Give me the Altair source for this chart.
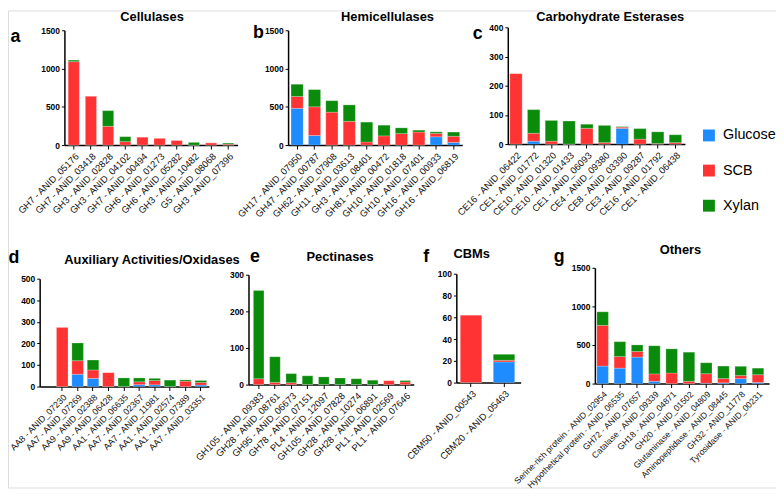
import altair as alt
import pandas as pd

SERIES = ["Glucose", "SCB", "Xylan"]
COLORS = ["#1E8BFF", "#FF3333", "#0B8B0B"]
FONT = "Liberation Sans"
W, H = 776, 482

# ---- data ----
a_labels = ["GH7 - ANID_05176", "GH7 - ANID_03418", "GH3 - ANID_02828", "GH3 - ANID_04102", "GH7 - ANID_00494",
            "GH6 - ANID_01273", "GH6 - ANID_05282", "GH3 - ANID_10482", "G5 - ANID_08068", "GH3 - ANID_07396"]
a_glc = [0, 0, 0, 0, 0, 0, 0, 0, 0, 0]
a_scb = [1090, 640, 245, 45, 105, 90, 62, 0, 30, 12]
a_xyl = [20, 0, 205, 65, 0, 0, 0, 35, 0, 14]

b_labels = ["GH17 - ANID_07950", "GH47 - ANID_00787", "GH62 - ANID_07908", "GH11 - ANID_03613", "GH3 - ANID_08401",
            "GH81 - ANID_00472", "GH10 - ANID_01818", "GH10 - ANID_07401", "GH16 - ANID_00933", "GH16 - ANID_06819"]
b_glc = [480, 125, 0, 0, 0, 0, 0, 0, 108, 35]
b_scb = [155, 375, 430, 310, 40, 120, 150, 170, 45, 80]
b_xyl = [160, 225, 150, 215, 260, 140, 75, 25, 20, 55]

c_labels = ["CE16 - ANID_06422", "CE1 - ANID_01772", "CE10 - ANID_01320", "CE10 - ANID_01433", "CE1 - ANID_06093",
            "CE4 - ANID_09380", "CE8 - ANID_03390", "CE3 - ANID_09287", "CE16 - ANID_01792", "CE1 - ANID_06438"]
c_glc = [0, 10, 0, 0, 0, 0, 54, 0, 0, 0]
c_scb = [242, 27, 10, 0, 54, 5, 4, 17, 2, 5]
c_xyl = [0, 81, 71, 79, 14, 59, 2, 36, 40, 27]

d_labels = ["AA8 - ANID_07230", "AA7 - ANID_07269", "AA9 - ANID_02388", "AA9 - ANID_06428", "AA1 - ANID_06635",
            "AA7 - ANID_02367", "AA7 - ANID_11981", "AA1 - ANID_02574", "AA1 - ANID_07389", "AA7 - ANID_03351"]
d_glc = [0, 57, 38, 0, 0, 9, 8, 0, 0, 7]
d_scb = [275, 63, 39, 65, 0, 13, 20, 0, 25, 12]
d_xyl = [0, 82, 46, 0, 40, 18, 10, 30, 6, 9]

e_labels = ["GH105 - ANID_09383", "GH28 - ANID_08761", "GH95 - ANID_06673", "GH78 - ANID_07151", "PL4 - ANID_12097",
            "GH105 - ANID_07828", "GH28 - ANID_10274", "GH28 - ANID_06891", "PL1 - ANID_02569", "PL1 - ANID_07646"]
e_glc = [0, 0, 0, 0, 0, 0, 0, 0, 0, 0]
e_scb = [16, 6, 5, 0, 0, 0, 0, 0, 11, 7]
e_xyl = [241, 70, 25, 24, 21, 18, 16, 12, 0, 4]

f_labels = ["CBM50 - ANID_00543", "CBM20 - ANID_05463"]
f_glc = [0, 19]
f_scb = [62, 1.5]
f_xyl = [0, 5.5]

g_labels = ["Serine-rich protein - ANID_02954", "Hypothetical protein - ANID_06535", "GH72 - ANID_07657",
            "Catalase - ANID_09339", "GH18 - ANID_04871", "GH20 - ANID_01502", "Glutaminase - ANID_04809",
            "Aminopeptidase - ANID_08445", "GH32 - ANID_11778", "Tyrosidase - ANID_00231"]
g_glc = [227, 200, 343, 30, 0, 0, 5, 10, 64, 15]
g_scb = [527, 150, 73, 95, 137, 30, 123, 55, 40, 100]
g_xyl = [176, 193, 85, 365, 313, 377, 142, 162, 120, 85]


def panel(title, letter, labels, glc, scb, xyl, ymax, ystep, xr, yr, title_pos, letter_pos,
          band=(0.35, 0.2, 0.5), label_size=9.5):
    """xr = [left, right] pixel range of the band axis, yr = [bottom, top] pixel range of the value axis,
    band = (paddingInner, paddingOuter, align) of the band scale."""
    rows = []
    for i, lab in enumerate(labels):
        for k, (s, vals) in enumerate(zip(SERIES, [glc, scb, xyl])):
            rows.append({"label": lab, "series": s, "ord": k, "value": vals[i]})
    df = pd.DataFrame(rows)
    x0, x1 = xr
    ybot, ytop = yr
    pin, pout, align = band
    return alt.Chart(df).mark_bar(stroke="white", strokeWidth=0.5, strokeOpacity=0.45).encode(
        x=alt.X("label:N", sort=labels,
                scale=alt.Scale(range=[x0, x1], paddingInner=pin, paddingOuter=pout, align=align),
                axis=alt.Axis(orient="bottom", offset=ybot - H, title=title,
                              titleX=title_pos[0], titleY=title_pos[1] - ybot, titleAlign="center",
                              titleBaseline="alphabetic", titleFontSize=13, titleFontWeight="bold",
                              titleFont=FONT, titleColor="black", titleAngle=0,
                              labelAngle=-45, labelFontSize=label_size, labelFont=FONT, labelColor="#111111",
                              tickSize=4, tickColor="black", tickWidth=1, domainColor="black",
                              domainWidth=1.5, labelPadding=2, labelLimit=300, labelOverlap=False)),
        y=alt.Y("value:Q", stack="zero",
                scale=alt.Scale(domain=[0, ymax], range=[ybot, ytop], nice=False),
                axis=alt.Axis(orient="left", offset=-x0, title=letter,
                              titleX=letter_pos[0] - x0, titleY=letter_pos[1], titleAngle=0,
                              titleAlign="left", titleBaseline="alphabetic", titleFontSize=18,
                              titleFontWeight="bold", titleFont=FONT, titleColor="black",
                              values=list(range(0, ymax + 1, ystep)), format="d", labelFontSize=8.5,
                              labelFont=FONT, labelFontWeight="bold", labelColor="black", tickSize=3,
                              tickColor="black", domainColor="black", domainWidth=1.5, grid=False,
                              labelPadding=2)),
        color=alt.Color("series:N", title=None,
                        scale=alt.Scale(domain=SERIES, range=COLORS),
                        legend=alt.Legend(orient="none", legendX=701, legendY=119, symbolType="square",
                                          symbolSize=144, symbolStrokeWidth=0, labelFontSize=14.5,
                                          labelFont=FONT, labelColor="black", rowPadding=20.5,
                                          labelOffset=7, padding=0, labelLimit=200)),
        order=alt.Order("ord:Q", sort="ascending"),
    )


# positions below are in chart pixels (page minus 8px margin)
pa = panel("Cellulases", "a", a_labels, a_glc, a_scb, a_xyl, 1500, 500,
           [57, 232], [136, 20], (145, 10), (2, 31), band=(0.35, 0.22, 0.5))
pb = panel("Hemicellulases", "b", b_labels, b_glc, b_scb, b_xyl, 1500, 500,
           [283, 459], [136, 20], (383, 10), (247, 27), band=(0.30, 0.16, 0.53))
pc = panel("Carbohydrate Esterases", "c", c_labels, c_glc, c_scb, c_xyl, 400, 100,
           [505, 684], [135, 17], (608, 10), (469, 28), band=(0.30, 0.15, 0.37))
pd_ = panel("Auxiliary Activities/Oxidases", "d", d_labels, d_glc, d_scb, d_xyl, 500, 100,
            [32, 203], [380, 271], (145, 256), (0, 255), band=(0.25, 0.62, 0.88), label_size=9)
pe = panel("Pectinases", "e", e_labels, e_glc, e_scb, e_xyl, 300, 100,
           [243, 410], [378, 267], (335, 253), (244, 254), band=(0.35, 0.25, 0.6))
pf = panel("CBMs", "f", f_labels, f_glc, f_scb, f_xyl, 100, 20,
           [453, 518], [376, 266], (468, 250), (419, 254), band=(0.35, 0.15, 0.4))
pg = panel("Others", "g", g_labels, g_glc, g_scb, g_xyl, 1500, 500,
           [593, 769], [377, 260], (679, 246), (551, 254), band=(0.33, 0.21, 0.27), label_size=8.7)

chart = alt.layer(pa, pb, pc, pd_, pe, pf, pg).resolve_scale(
    x="independent", y="independent"
).resolve_axis(
    x="independent", y="independent"
).properties(
    width=W, height=H, padding=0, autosize=alt.AutoSizeParams(type="none")
).configure_view(stroke=None).configure(background="white")

chart.save("out.html", embed_options={"renderer": "svg", "actions": False})
